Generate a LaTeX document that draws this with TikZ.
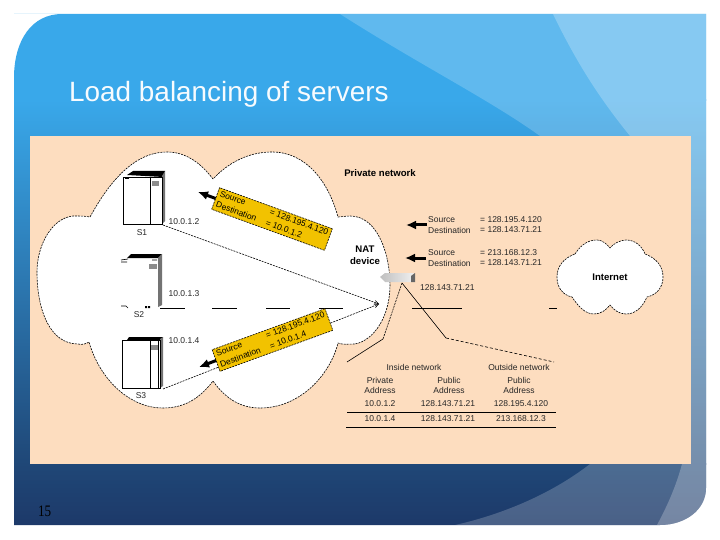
\documentclass[tikz,border=0pt]{standalone}
\usepackage{fontspec}
\setmainfont{Liberation Sans}
\newfontfamily\numfont{Liberation Serif}
\usetikzlibrary{arrows.meta}
\definecolor{skyblue}{HTML}{39A8EA}
\definecolor{midnavy}{HTML}{1F4777}
\definecolor{navy}{HTML}{1D3868}
\definecolor{peach}{HTML}{FDDDBF}
\definecolor{tag}{HTML}{F2C200}
\newcommand{\panelpath}{(14,14) -- (706,14) -- (706,488) .. controls (706,510) and (685,525) .. (660,525) -- (14,525) -- (14,78) .. controls (14,40) and (32,14) .. (62,14) -- cycle}
\newcommand{\tagtext}[2]{\begin{tabular}{@{}p{53pt}@{}l@{}}Source & = #1\\Destination & = #2\end{tabular}}
\tikzset{
  txt/.style={font=\fontsize{8.5}{10}\selectfont, inner sep=0pt, text=black!85},
  head/.style={font=\bfseries\fontsize{9.6}{11}\selectfont, inner sep=0pt, text=black},
  dashline/.style={line width=.6pt, dash pattern=on 2pt off 1pt},
  cloud/.style={fill=white, draw=black, dashline},
  tag/.style={fill=tag, draw=black, dashline, minimum width=120pt, minimum height=22pt, inner sep=0pt, outer sep=0pt,
    font=\fontsize{8.5}{11.5}\selectfont, align=left},
  fat/.style={line width=3pt, -{Latex[length=10pt,width=9pt]}},
  rule/.style={line width=.7pt, black},
  tip/.style={-{Straight Barb[length=4pt,width=4pt]}},
  box/.style={fill=white, draw=black, line width=.7pt},
}
\begin{document}
\begin{tikzpicture}[x=1pt,y=-1pt]
\useasboundingbox (0,0) rectangle (720,540);
\fill[white] (0,0) rectangle (720,540);

% slide background
\begin{scope}
  \clip \panelpath;
  \fill[skyblue] (0,0) rectangle (720,101);
  \shade[top color=skyblue, bottom color=midnavy] (0,100) rectangle (720,464);
  \shade[top color=midnavy, bottom color=navy] (0,463.5) rectangle (720,530);
  \fill[white, opacity=.2] (340,14) .. controls (420,65) and (490,100) .. (540,136) .. controls (640,220) and (700,300) .. (690,340) .. controls (660,400) and (620,440) .. (590,464) .. controls (550,495) and (500,515) .. (455,525) -- (720,540) -- (720,0) -- cycle;
  \fill[white, opacity=.24] (553,14) .. controls (580,70) and (605,105) .. (630,136) .. controls (680,240) and (700,350) .. (682,464) .. controls (675,490) and (665,510) .. (657,525) -- (720,540) -- (720,0) -- cycle;
\end{scope}

\node[inner sep=0pt, anchor=base west, text=white!96!skyblue, font=\fontsize{27.9}{30}\selectfont] (title) at (69,102) {Load balancing of servers};
\node[inner sep=0pt, anchor=base west, text=black, font=\numfont\fontsize{16}{18}\selectfont, xscale=.82] (page) at (38,516) {15};

\fill[peach] (30,136) rectangle (691,464);

% private network cloud
\path[cloud] (213,179) .. controls (200,162) and (185,152) .. (167,152) .. controls (130,152) and (105,190) .. (90,217)
  .. controls (85,216) and (80,216) .. (73,216) .. controls (52,218) and (37,245) .. (37,272)
  .. controls (37,310) and (50,344) .. (78,344) .. controls (82,345) and (86,344) .. (89,342)
  .. controls (100,380) and (130,408) .. (163,408) .. controls (185,408) and (200,398) .. (213,381)
  .. controls (225,398) and (240,408) .. (260,408) .. controls (300,408) and (330,375) .. (338,343)
  .. controls (343,345) and (348,344) .. (355,344) .. controls (375,340) and (390,315) .. (390,285)
  .. controls (390,255) and (378,216) .. (350,216) .. controls (345,216) and (342,217) .. (338,217)
  .. controls (328,180) and (305,152) .. (272,152) .. controls (248,152) and (228,163) .. (213,179) -- cycle;

% internet cloud
\path[cloud] (575,254) .. controls (582,243) and (590,240) .. (597,240) .. controls (602,240) and (607,244) .. (610,248)
  .. controls (613,244) and (620,240) .. (626,240) .. controls (635,240) and (642,246) .. (645,254)
  .. controls (656,258) and (663,266) .. (663,277) .. controls (663,288) and (656,295) .. (647,297)
  .. controls (642,308) and (635,314) .. (626,314) .. controls (619,314) and (614,310) .. (610,305)
  .. controls (606,310) and (601,314) .. (594,314) .. controls (585,314) and (578,306) .. (572,297)
  .. controls (563,295) and (557,288) .. (557,277) .. controls (557,266) and (564,258) .. (575,254) -- cycle;
\node[head] (inet) at (610,277) {Internet};

% server S1
\fill[black] (127,175) -- (133,171) -- (165,171) -- (163,177) -- cycle;
\fill[black!55] (162,176) -- (165,171) -- (165,221) -- (162,224) -- cycle;
\path[box] (123,177) rectangle (162,224);
\draw[line width=.7pt] (150,177) -- (150,224);
\fill[black!45] (152,181) rectangle (159,186);
\draw[line width=.7pt] (125,178) -- (129,178);
% server S2
\fill[black] (127,258) -- (131,254) -- (162,254) -- (158,258) -- cycle;
\fill[black!55] (158,258) -- (162,254) -- (162,305) -- (158,307) -- cycle;
\fill[black!45] (149,264) rectangle (157,269);
\draw[line width=.7pt] (121,260) -- (128,259) (121,262) -- (127,262) (152,260) -- (157,260);
\draw[line width=.7pt] (121,306) -- (126,306) -- (128,308);
\fill[black] (145,306) rectangle (147,308) (148,306) rectangle (150,308);
% server S3
\fill[black] (127,340) -- (129,337) -- (163,337) -- (162,340) -- cycle;
\fill[black!55] (160,339) -- (163,337) -- (163,386) -- (160,388) -- cycle;
\path[box] (122,340) rectangle (160,388);
\draw[line width=.7pt] (150,340) -- (150,388) (158,340) -- (158,388);
\fill[black!45] (151,345) rectangle (158,350);

% named ends of the connectors
\coordinate (s1) at (163,225);
\coordinate (s3) at (163,389);
\coordinate (nat) at (379,304);
\coordinate (rt) at (402,283);
\coordinate (b1) at (383,339);
\coordinate (b2) at (347,362);
\coordinate (c1) at (446,338);
\coordinate (c2) at (554,362);

\draw[dashline, tip] (s1) -- (nat);
\draw[dashline, tip] (s3) -- (nat);

% solid pieces of the line through S2
\foreach \xa/\xb in {160/185, 212/237, 266/290, 319/343, 412/462, 549/557}
  \draw[rule] (\xa,308) -- (\xb,308);

% yellow tags
\node[tag, rotate=-20] (tag1) at (272,219) {\tagtext{128.195.4.120}{10.0.1.2}};
\node[tag, rotate=20] (tag2) at (272.5,340) {\tagtext{128.195.4.120}{10.0.1.4}};
\coordinate (a1) at (198,192);
\coordinate (a2) at (199,367);
\draw[fat] (tag1.west) -- (a1);
\draw[fat] (tag2.west) -- (a2);

% server labels
\node[txt] (s1l) at (142,233) {S1};
\node[txt] (s2l) at (139,315) {S2};
\node[txt] (s3l) at (141,396) {S3};
\node[txt] (ip2) at (184,222) {10.0.1.2};
\node[txt] (ip3) at (184,294) {10.0.1.3};
\node[txt] (ip4) at (184,341) {10.0.1.4};

% headings
\node[head] (priv) at (380,173) {Private network};
\node[head] (nat1) at (365,249) {NAT};
\node[head] (nat2) at (365,261) {device};

% router
\shade[left color=black!25, right color=black!6] (380,277) -- (385,273) -- (414,273) -- (411,276) -- (411,282) -- (385,282) -- cycle;
\fill[black!60] (411,276) -- (415,273) -- (415,282) -- (411,282) -- cycle;

% packet lines on the right
\node[txt, anchor=west] (sa) at (428,220) {Source};
\node[txt, anchor=west] (da) at (428,230) {Destination};
\node[txt, anchor=west] (sav) at (480,220) {= 128.195.4.120};
\node[txt, anchor=west] (dav) at (480,230) {= 128.143.71.21};
\node[txt, anchor=west] (sb) at (428,253) {Source};
\node[txt, anchor=west] (db) at (428,263) {Destination};
\node[txt, anchor=west] (sbv) at (480,253) {= 213.168.12.3};
\node[txt, anchor=west] (dbv) at (480,263) {= 128.143.71.21};
\coordinate (a3) at (406,225);
\coordinate (a3s) at (427,225);
\coordinate (a4) at (405,258);
\coordinate (a4s) at (426,258);
\draw[fat] (a3s) -- (a3);
\draw[fat] (a4s) -- (a4);
\node[txt, anchor=west] (pub) at (420,288) {128.143.71.21};

% leaders to the table
\draw[dashline] (rt) -- (b1);
\draw[line width=.6pt] (b1) -- (b2);
\draw[line width=.6pt] (rt) -- (c1);
\draw[dashline, dash pattern=on 3pt off 2pt] (c1) -- (c2);

% table
\node[txt] (th1) at (414,367) {Inside network};
\node[txt] (th2) at (519,367) {Outside network};
\node[txt] (h1a) at (380,380) {Private};
\node[txt] (h1b) at (380,390) {Address};
\node[txt] (h2a) at (449,380) {Public};
\node[txt] (h2b) at (449,390) {Address};
\node[txt] (h3a) at (519,380) {Public};
\node[txt] (h3b) at (519,390) {Address};
\node[txt] (r11) at (380,404) {10.0.1.2};
\node[txt] (r12) at (448,404) {128.143.71.21};
\node[txt] (r13) at (521,404) {128.195.4.120};
\node[txt] (r21) at (380,419) {10.0.1.4};
\node[txt] (r22) at (448,419) {128.143.71.21};
\node[txt] (r23) at (521,419) {213.168.12.3};
\draw[rule] (347,412) -- (556,412);
\draw[rule] (346,427) -- (556,427);
\end{tikzpicture}
\end{document}
